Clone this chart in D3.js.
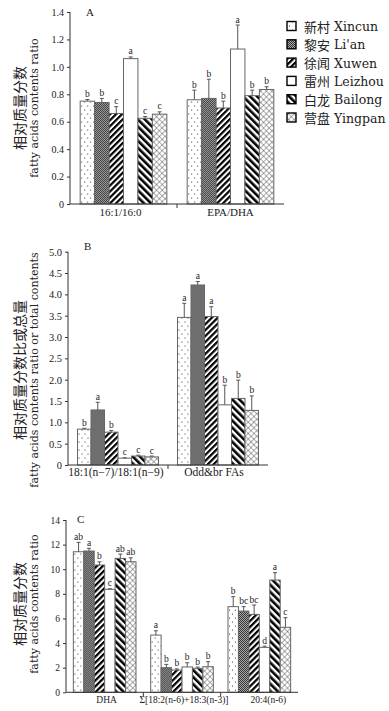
<!DOCTYPE html>
<html><head><meta charset="utf-8">
<script src="https://cdn.jsdelivr.net/npm/d3@7"></script>
<style>body{margin:0;background:#fff}svg{display:block}</style>
</head><body>
<script>
const sites = ["新村 Xincun","黎安 Li'an","徐闻 Xuwen","雷州 Leizhou","白龙 Bailong","营盘 Yingpan"];
const patIds = ["pDot","pChk","pFwd","none","pBck","pX"];

const catsA = ["16:1/16:0","EPA/DHA"];
const valsA = [[0.75,0.74,0.66,1.06,0.625,0.655],[0.76,0.77,0.70,1.13,0.79,0.835]];
const sdA = [[0.012,0.03,0.05,0.012,0.013,0.017],[0.07,0.14,0.05,0.175,0.04,0.02]];
const letA = [["b","b","c","a","c","c"],["b","b","b","a","b","b"]];
const ticksA = [0,0.2,0.4,0.6,0.8,1.0,1.2,1.4];

const catsB = ["18:1(n−7)/18:1(n−9)","Odd&br FAs"];
const valsB = [[0.84,1.29,0.77,0.16,0.21,0.19],[3.46,4.22,3.48,1.41,1.56,1.28]];
const sdB = [[0.02,0.18,0.04,0.01,0.02,0.02],[0.33,0.08,0.23,0.46,0.43,0.34]];
const letB = [["b","a","b","c","c","c"],["a","a","a","b","b","b"]];
const ticksB = [0,0.5,1.0,1.5,2.0,2.5,3.0,3.5,4.0,4.5,5.0];

const catsC = ["DHA","Σ[18:2(n-6)+18:3(n-3)]","20:4(n-6)"];
const valsC = [[11.42,11.48,10.34,8.37,10.88,10.61],[4.65,2.0,1.81,2.06,1.95,2.08],[6.96,6.6,6.33,3.65,9.12,5.28]];
const sdC = [[0.76,0.22,0.26,0.04,0.35,0.32],[0.35,0.27,0.09,0.34,0.1,0.41],[0.81,0.36,0.76,0.1,0.6,0.78]];
const letC = [["ab","a","b","c","ab","ab"],["a","b","b","b","b","b"],["b","bc","bc","d","a","c"]];
const ticksC = [0,2,4,6,8,10,12,14];

const W=389,H=711;
const serif = "'Liberation Serif','Times New Roman',serif";
const wserif = "'DejaVu Serif',serif";
const cjk = "'Noto Sans CJK SC','Noto Sans CJK JP',sans-serif";
const svg = d3.select("body").append("svg").attr("width",W).attr("height",H);
const defs = svg.append("defs");

let p = defs.append("pattern").attr("id","pDot").attr("patternUnits","userSpaceOnUse").attr("width",6).attr("height",8);
p.append("rect").attr("width",6).attr("height",8).attr("fill","#fff");
p.append("circle").attr("cx",1.5).attr("cy",2).attr("r",0.6).attr("fill","#222");
p.append("circle").attr("cx",4.5).attr("cy",6).attr("r",0.6).attr("fill","#222");

p = defs.append("pattern").attr("id","pChk").attr("patternUnits","userSpaceOnUse").attr("width",2).attr("height",2);
p.append("rect").attr("width",2).attr("height",2).attr("fill","#aaa");
p.append("rect").attr("width",1).attr("height",1).attr("fill","#333");
p.append("rect").attr("x",1).attr("y",1).attr("width",1).attr("height",1).attr("fill","#333");

p = defs.append("pattern").attr("id","pFwd").attr("patternUnits","userSpaceOnUse").attr("width",4.2).attr("height",10).attr("patternTransform","rotate(45)");
p.append("rect").attr("width",4.2).attr("height",10).attr("fill","#fff");
p.append("rect").attr("width",2.2).attr("height",10).attr("fill","#000");

p = defs.append("pattern").attr("id","pBck").attr("patternUnits","userSpaceOnUse").attr("width",5).attr("height",10).attr("patternTransform","rotate(-45)");
p.append("rect").attr("width",5).attr("height",10).attr("fill","#fff");
p.append("rect").attr("width",2.6).attr("height",10).attr("fill","#000");

p = defs.append("pattern").attr("id","pX").attr("patternUnits","userSpaceOnUse").attr("width",4).attr("height",4).attr("patternTransform","rotate(45)");
p.append("rect").attr("width",4).attr("height",4).attr("fill","#fff");
p.append("line").attr("x1",0).attr("y1",0).attr("x2",4).attr("y2",0).attr("stroke","#333").attr("stroke-width",0.8);
p.append("line").attr("x1",0).attr("y1",0).attr("x2",0).attr("y2",4).attr("stroke","#333").attr("stroke-width",0.8);

function fill(i){ return patIds[i]==="none" ? "#fff" : `url(#${patIds[i]})`; }

function panel(cfg){
  const g = svg.append("g");
  const x0 = d3.scaleBand().domain(cfg.cats).range(cfg.xr).paddingInner(0.19).paddingOuter(0.095);
  const x1 = d3.scaleBand().domain(d3.range(6)).range([0,x0.bandwidth()]);
  const y = d3.scaleLinear().domain([0,cfg.ymax]).range(cfg.yr);
  const ya = g.append("g").attr("transform",`translate(${cfg.xr[0]},0)`)
    .call(d3.axisLeft(y).tickValues(cfg.ticks).tickSize(3).tickPadding(3).tickFormat(cfg.fmt));
  ya.select(".domain").attr("stroke","#333").attr("d",`M0,${cfg.yr[0]}V${cfg.yr[1]}`);
  ya.selectAll(".tick line").attr("stroke","#333");
  ya.selectAll("text").attr("font-family",serif).attr("font-size",cfg.tfs).attr("fill","#222");
  cfg.cats.forEach((c,ci)=>{
    const gg = g.append("g").attr("transform",`translate(${x0(c)},0)`);
    d3.range(6).forEach(i=>{
      const v = cfg.vals[ci][i], s = cfg.sd[ci][i];
      const bx = x1(i), bw = x1.bandwidth(), cx = bx+bw/2;
      gg.append("rect").attr("x",bx).attr("y",y(v)).attr("width",bw).attr("height",y(0)-y(v))
        .attr("fill",fill(i)).attr("stroke","#666").attr("stroke-width",1);
      gg.append("line").attr("x1",cx).attr("x2",cx).attr("y1",y(v)).attr("y2",y(v+s)).attr("stroke","#555").attr("stroke-width",1);
      gg.append("line").attr("x1",cx-2).attr("x2",cx+2).attr("y1",y(v+s)).attr("y2",y(v+s)).attr("stroke","#555").attr("stroke-width",1);
      gg.append("text").attr("x",cx).attr("y",y(v+s)-2.5).attr("text-anchor","middle")
        .attr("font-family",serif).attr("font-size",9.5).attr("fill","#222").text(cfg.lets[ci][i]);
    });
  });
  const xa = g.append("g");
  xa.append("line").attr("x1",cfg.xr[0]).attr("x2",cfg.xr[1]).attr("y1",cfg.yr[0]).attr("y2",cfg.yr[0]).attr("stroke","#333");
  cfg.cats.forEach((c,ci)=>{
    if(ci>0){
      const tx = x0(c) - x0.step()*x0.paddingInner()/2;
      xa.append("line").attr("x1",tx).attr("x2",tx).attr("y1",cfg.yr[0]).attr("y2",cfg.yr[0]+4).attr("stroke","#333");
    }
    xa.append("text").attr("x",x0(c)+x0.bandwidth()/2+(cfg.lx?cfg.lx[ci]:0)).attr("y",cfg.yr[0]+cfg.ly)
      .attr("text-anchor","middle").attr("font-family",serif).attr("font-size",cfg.xfs).attr("fill","#222").text(c);
  });
  g.append("text").attr("x",cfg.pl[0]).attr("y",cfg.pl[1]).attr("font-family",serif).attr("font-size",11).attr("fill","#222").text(cfg.name);
  const chars = Array.from(cfg.zh), n = chars.length, cs = 14;
  chars.forEach((ch,i)=>{
    const yy = cfg.lc + (n/2 - i - 0.5)*cs;
    g.append("text").attr("transform",`translate(19,${yy}) rotate(-90)`).attr("text-anchor","middle")
      .attr("dominant-baseline","central").attr("font-family",cjk).attr("font-size",cs).attr("fill","#222").text(ch);
  });
  g.append("text").attr("transform",`translate(34,${cfg.lc}) rotate(-90)`).attr("text-anchor","middle")
    .attr("dominant-baseline","central").attr("font-family",wserif).attr("font-size",11).attr("fill","#222").text(cfg.en);
}

panel({name:"A",cats:catsA,vals:valsA,sd:sdA,lets:letA,ticks:ticksA,ymax:1.4,xr:[70,284],yr:[204,12],tfs:10,xfs:11,
  fmt:d=>d===0?"0":d3.format(".1f")(d),ly:12,pl:[86,16],lc:108,zh:"相对质量分数",en:"fatty acids contents ratio",lx:[-3,0]});
panel({name:"B",cats:catsB,vals:valsB,sd:sdB,lets:letB,ticks:ticksB,ymax:5,xr:[68,268],yr:[465,251.7],tfs:10.5,xfs:11.5,
  fmt:d=>d===0?"0":d3.format(".1f")(d),ly:11,pl:[84,250],lc:370,zh:"相对质量分数比或总量",en:"fatty acids contents ratio or total contents",lx:[-2,-4]});
panel({name:"C",cats:catsC,vals:valsC,sd:sdC,lets:letC,ticks:ticksC,ymax:14,xr:[66,298],yr:[692.3,520],tfs:9.5,xfs:9.5,
  fmt:d=>String(d),ly:11,pl:[77,523],lc:604,zh:"相对质量分数",en:"fatty acids contents ratio",lx:[2,2,9]});

const lg = svg.append("g");
sites.forEach((s,i)=>{
  const yy = 26 + i*18.3;
  lg.append("rect").attr("x",287).attr("y",yy-4.5).attr("width",9).attr("height",9)
    .attr("fill",fill(i)).attr("stroke","#000").attr("stroke-width",1.4);
  const parts = s.split(" ");
  lg.append("text").attr("x",304).attr("y",yy).attr("dominant-baseline","central").attr("font-size",13)
    .attr("font-family",cjk).attr("fill","#222").text(parts[0]);
  lg.append("text").attr("x",334).attr("y",yy+0.5).attr("dominant-baseline","central").attr("font-size",12.5)
    .attr("font-family",wserif).attr("fill","#222").text(parts[1]);
});
</script>
</body></html>
